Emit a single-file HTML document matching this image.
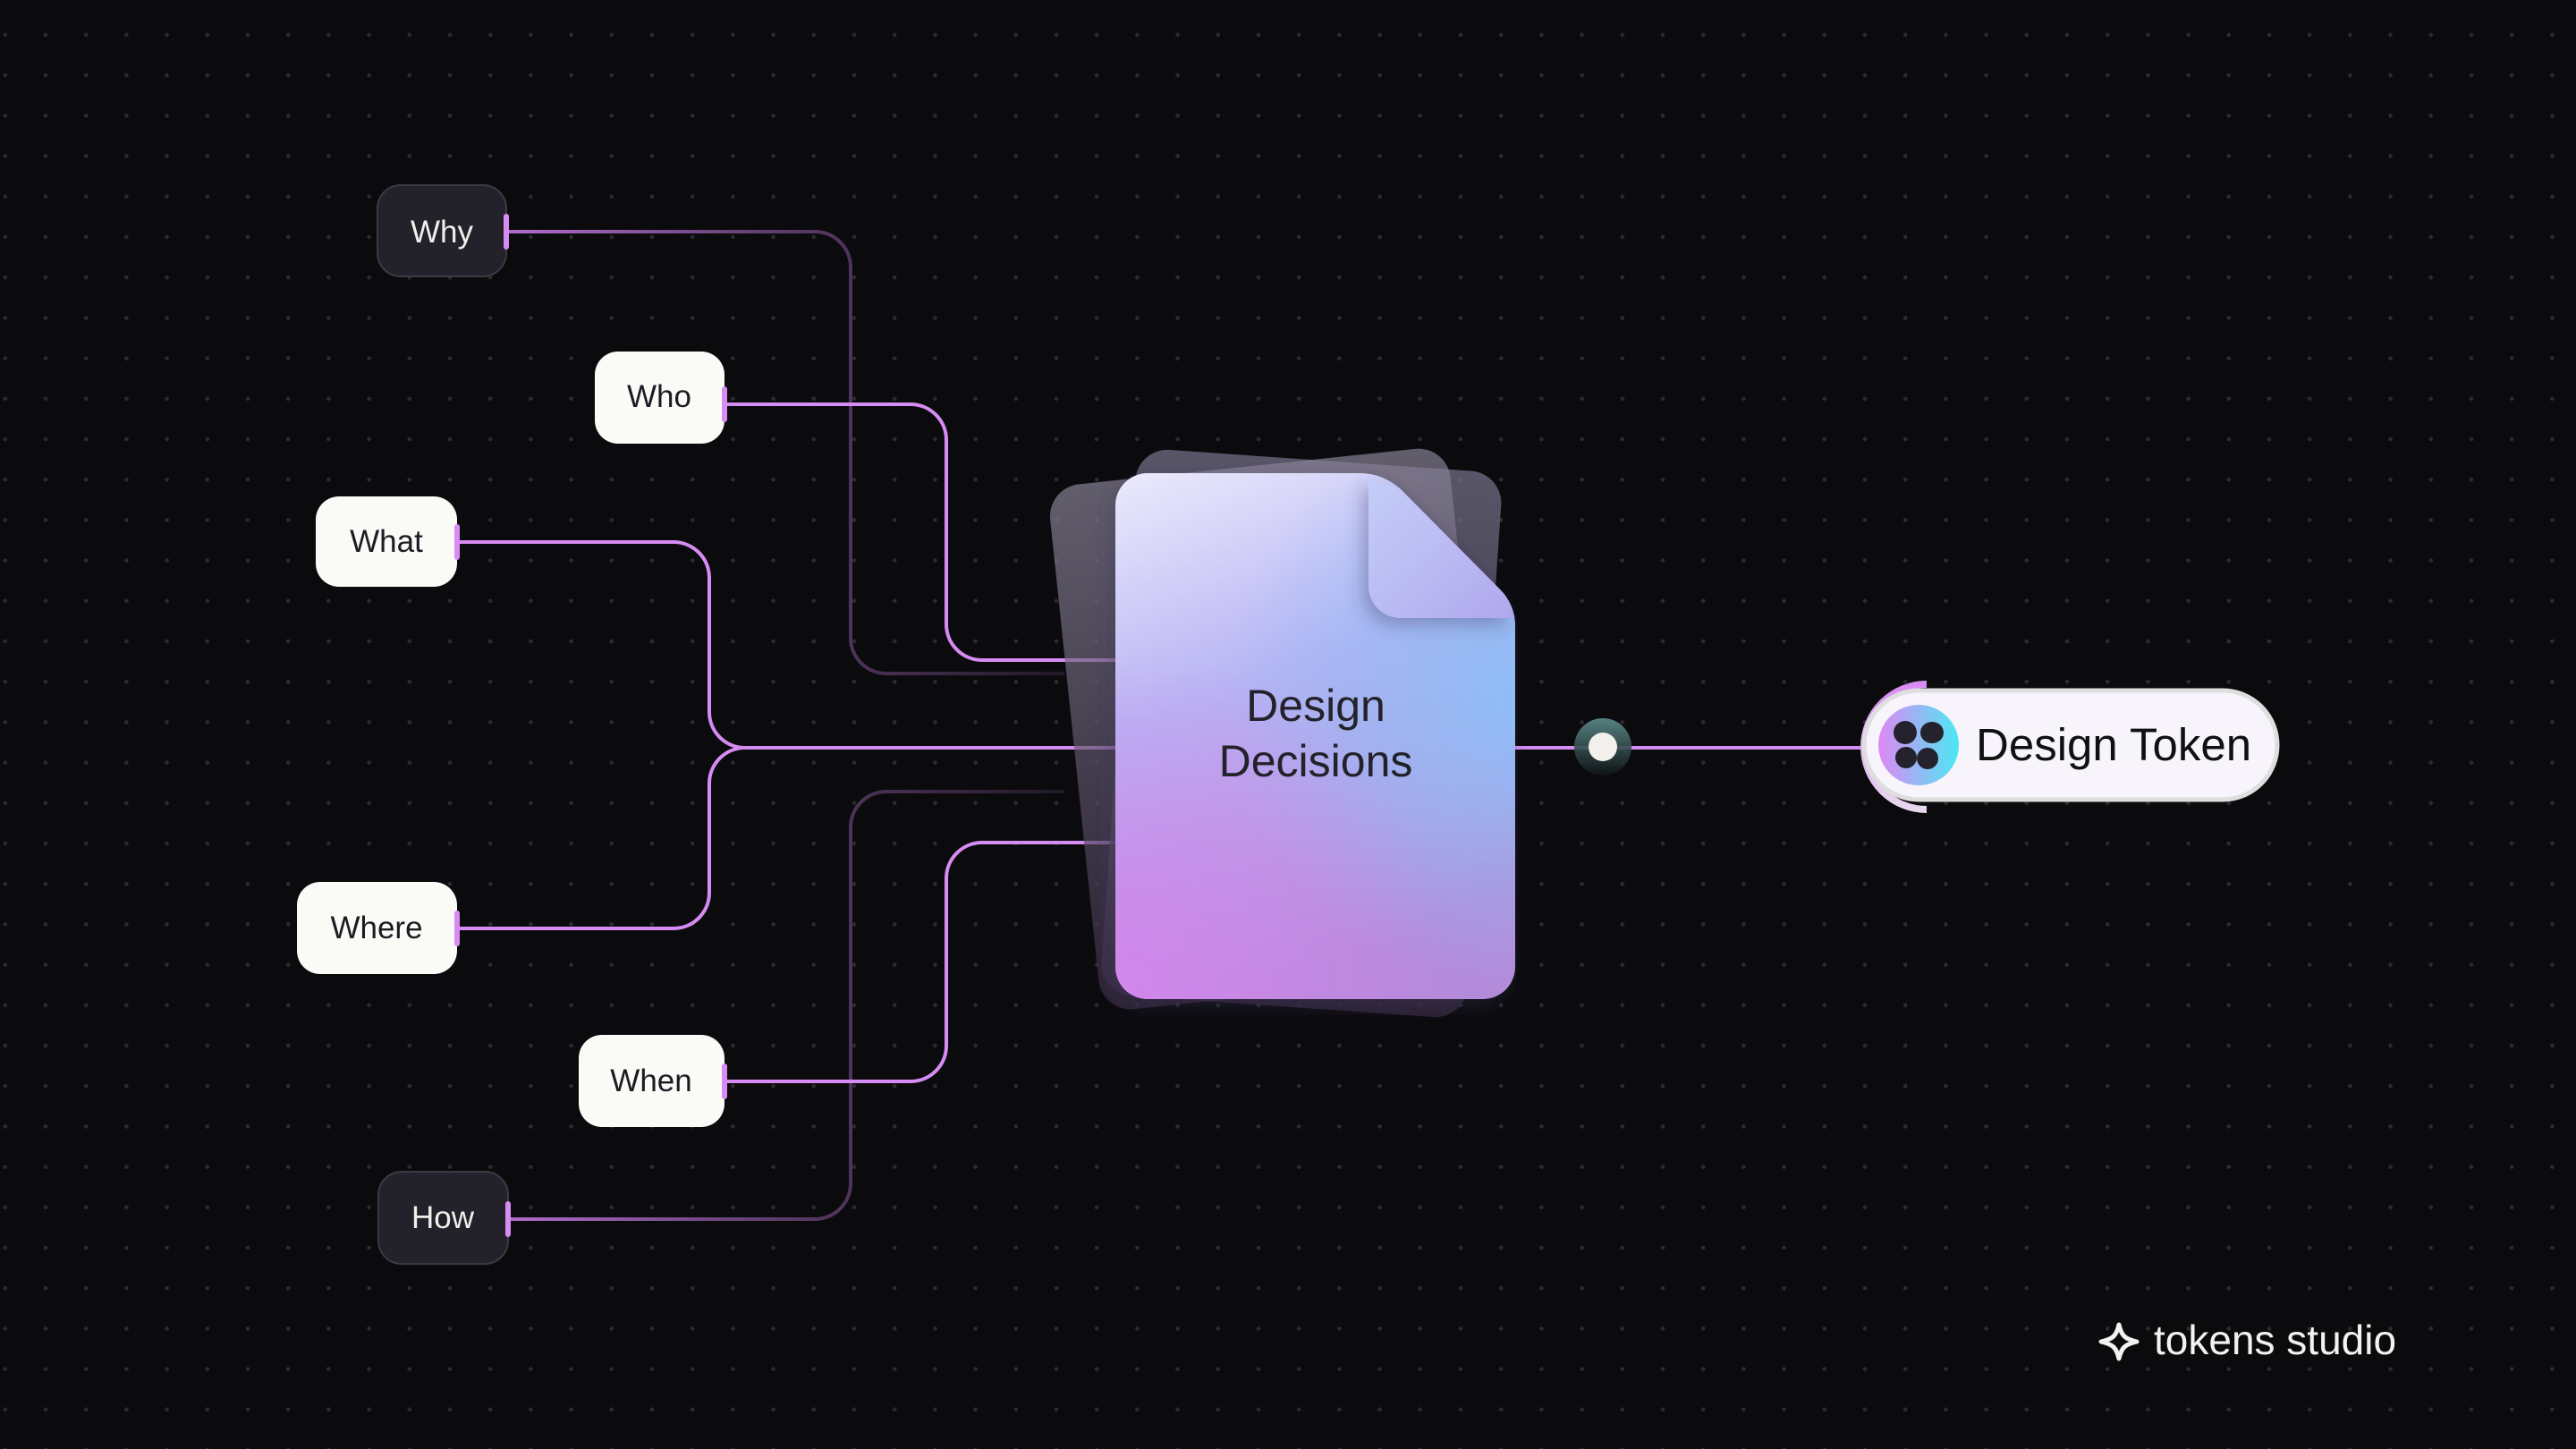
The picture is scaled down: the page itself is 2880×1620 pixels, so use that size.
<!DOCTYPE html>
<html><head><meta charset="utf-8"><style>
html,body{margin:0;padding:0;background:#0b0b0e;}
body{width:2880px;height:1620px;overflow:hidden;position:relative;font-family:"Liberation Sans",sans-serif;}
</style></head><body>
<svg width="2880" height="1620" viewBox="0 0 2880 1620" xmlns="http://www.w3.org/2000/svg" style="position:absolute;left:0;top:0">
<defs>
<pattern id="dots" x="29" y="17" width="45.2" height="45.2" patternUnits="userSpaceOnUse">
<circle cx="22" cy="22" r="2.3" fill="#2b2b30"/>
</pattern>
<linearGradient id="dimTop" x1="566" y1="0" x2="1180" y2="0" gradientUnits="userSpaceOnUse">
<stop offset="0" stop-color="#b06ccc"/><stop offset="0.5" stop-color="#5c3c6a"/><stop offset="1" stop-color="#221a28"/>
</linearGradient>
<linearGradient id="back1" x1="0" y1="0" x2="0" y2="1">
<stop offset="0" stop-color="#8a8498" stop-opacity="0.85"/><stop offset="1" stop-color="#3a2c44" stop-opacity="0.85"/>
</linearGradient>
<linearGradient id="back2" x1="0" y1="0" x2="0" y2="1">
<stop offset="0" stop-color="#7c7892" stop-opacity="0.8"/><stop offset="1" stop-color="#35283f" stop-opacity="0.9"/>
</linearGradient>
<linearGradient id="docBase" x1="0" y1="0" x2="0.3" y2="1">
<stop offset="0" stop-color="#ebeafc"/><stop offset="0.45" stop-color="#b8b4f4"/><stop offset="1" stop-color="#b48ada"/>
</linearGradient>
<radialGradient id="docBlue" cx="1700" cy="780" r="330" gradientUnits="userSpaceOnUse">
<stop offset="0" stop-color="#8cbff6" stop-opacity="0.95"/><stop offset="1" stop-color="#8cbff6" stop-opacity="0"/>
</radialGradient>
<radialGradient id="docPink" cx="1250" cy="1110" r="380" gradientUnits="userSpaceOnUse">
<stop offset="0" stop-color="#d486ec" stop-opacity="0.95"/><stop offset="1" stop-color="#d486ec" stop-opacity="0"/>
</radialGradient>
<linearGradient id="fold" x1="0" y1="0" x2="1" y2="1">
<stop offset="0" stop-color="#c4cef8"/><stop offset="1" stop-color="#b0a8ee"/>
</linearGradient>
<linearGradient id="icon" x1="0" y1="0" x2="1" y2="0">
<stop offset="0" stop-color="#de88f4"/><stop offset="1" stop-color="#4ce8f4"/>
</linearGradient>
<linearGradient id="arc" x1="0" y1="0" x2="0" y2="1">
<stop offset="0" stop-color="#d88cf2"/><stop offset="1" stop-color="#e8d8ee"/>
</linearGradient>
<linearGradient id="node" x1="0" y1="0" x2="0" y2="1">
<stop offset="0" stop-color="#5f8e8e"/><stop offset="1" stop-color="#0e1416"/>
</linearGradient>
<filter id="sh" x="-20%" y="-20%" width="140%" height="140%"><feDropShadow dx="-6" dy="8" stdDeviation="10" flood-color="#3a3060" flood-opacity="0.35"/></filter>
</defs>
<rect width="2880" height="1620" fill="#0b0b0e"/>
<rect width="2880" height="1620" fill="url(#dots)"/>

<g fill="none" stroke-width="4">
<path d="M566,259 H911 a40,40 0 0 1 40,40 V713 a40,40 0 0 0 40,40 H1190" stroke="url(#dimTop)"/>
<path d="M568,1363 H911 a40,40 0 0 0 40,-40 V925 a40,40 0 0 1 40,-40 H1190" stroke="url(#dimTop)"/>
<path d="M810,452 H1018 a40,40 0 0 1 40,40 V698 a40,40 0 0 0 40,40 H1252" stroke="#d68cf2"/>
<path d="M511,606 H753 a40,40 0 0 1 40,40 V796 a40,40 0 0 0 40,40 H1252" stroke="#d68cf2"/>
<path d="M511,1038 H753 a40,40 0 0 0 40,-40 V876 a40,40 0 0 1 40,-40" stroke="#d68cf2"/>
<path d="M810,1209 H1018 a40,40 0 0 0 40,-40 V982 a40,40 0 0 1 40,-40 H1252" stroke="#d68cf2"/>
<path d="M1690,836 H2090" stroke="#d68cf2"/>
</g>

<!-- back sheets -->
<rect x="1250" y="514" width="410" height="612" rx="36" fill="url(#back2)" opacity="0.85" transform="rotate(4 1455 820)"/>
<rect x="1200" y="520" width="450" height="590" rx="36" fill="url(#back1)" opacity="0.8" transform="rotate(-6 1425 815)"/>

<g filter="url(#sh)">
<path d="M1283,529 H1520 Q1545,529 1565,546 L1678,660 Q1694,677 1694,700 V1081 a36,36 0 0 1 -36,36 H1283 a36,36 0 0 1 -36,-36 V565 a36,36 0 0 1 36,-36 Z" fill="url(#docBase)"/>
<path d="M1283,529 H1520 Q1545,529 1565,546 L1678,660 Q1694,677 1694,700 V1081 a36,36 0 0 1 -36,36 H1283 a36,36 0 0 1 -36,-36 V565 a36,36 0 0 1 36,-36 Z" fill="url(#docBlue)"/>
<path d="M1283,529 H1520 Q1545,529 1565,546 L1678,660 Q1694,677 1694,700 V1081 a36,36 0 0 1 -36,36 H1283 a36,36 0 0 1 -36,-36 V565 a36,36 0 0 1 36,-36 Z" fill="url(#docPink)"/>
</g>
<path d="M1530,535 L1565,546 L1678,660 Q1690,672 1692,691 H1566 a36,36 0 0 1 -36,-36 Z" fill="url(#fold)" filter="url(#sh)"/>
<text x="1471" y="806" font-size="50" fill="#23222a" text-anchor="middle">Design</text>
<text x="1471" y="868" font-size="50" fill="#23222a" text-anchor="middle">Decisions</text>

<circle cx="1792" cy="835" r="32" fill="url(#node)" opacity="0.9"/>
<circle cx="1792" cy="835" r="16" fill="#f2f0ec"/>

<path d="M2154,765 A70,70 0 0 0 2154,905" fill="none" stroke="url(#arc)" stroke-width="8"/>
<rect x="2084" y="772" width="462" height="122" rx="61" fill="#f8f4fb" stroke="#dedede" stroke-width="5"/>
<circle cx="2145" cy="833" r="45" fill="url(#icon)"/>
<g fill="#24222c">
<ellipse cx="2130" cy="819" rx="13" ry="13"/><ellipse cx="2160" cy="819" rx="13" ry="12"/>
<ellipse cx="2131" cy="847" rx="12" ry="12"/><ellipse cx="2155" cy="848" rx="12" ry="12"/>
</g>
<text x="2209" y="850" font-size="51" fill="#111">Design Token</text>

<g font-size="35" text-anchor="middle">
<rect x="422" y="207" width="144" height="102" rx="26" fill="#23222b" stroke="#3b3a42" stroke-width="2"/>
<text x="494" y="271" fill="#f0efea">Why</text>
<rect x="665" y="393" width="145" height="103" rx="26" fill="#fafaf7"/>
<text x="737" y="455" fill="#1c1b22">Who</text>
<rect x="353" y="555" width="158" height="101" rx="26" fill="#fafaf7"/>
<text x="432" y="617" fill="#1c1b22">What</text>
<rect x="332" y="986" width="179" height="103" rx="26" fill="#fafaf7"/>
<text x="421" y="1049" fill="#1c1b22">Where</text>
<rect x="647" y="1157" width="163" height="103" rx="26" fill="#fafaf7"/>
<text x="728" y="1220" fill="#1c1b22">When</text>
<rect x="423" y="1310" width="145" height="103" rx="26" fill="#23222b" stroke="#3b3a42" stroke-width="2"/>
<text x="495" y="1373" fill="#f0efea">How</text>
</g>
<g fill="#d68cf2">
<rect x="563" y="239" width="6" height="40" rx="3"/>
<rect x="807" y="432" width="6" height="40" rx="3"/>
<rect x="508" y="586" width="6" height="40" rx="3"/>
<rect x="508" y="1018" width="6" height="40" rx="3"/>
<rect x="807" y="1189" width="6" height="40" rx="3"/>
<rect x="565" y="1343" width="6" height="40" rx="3"/>
</g>

<path d="M2369,1481 C2366,1494 2362,1497 2349,1500 C2362,1503 2366,1506 2369,1519 C2372,1506 2376,1503 2389,1500 C2376,1497 2372,1494 2369,1481 Z" fill="none" stroke="#f4f2ee" stroke-width="5" stroke-linejoin="round"/>
<text x="2408" y="1514" font-size="46" fill="#f4f2ee">tokens studio</text>
</svg>
</body></html>
